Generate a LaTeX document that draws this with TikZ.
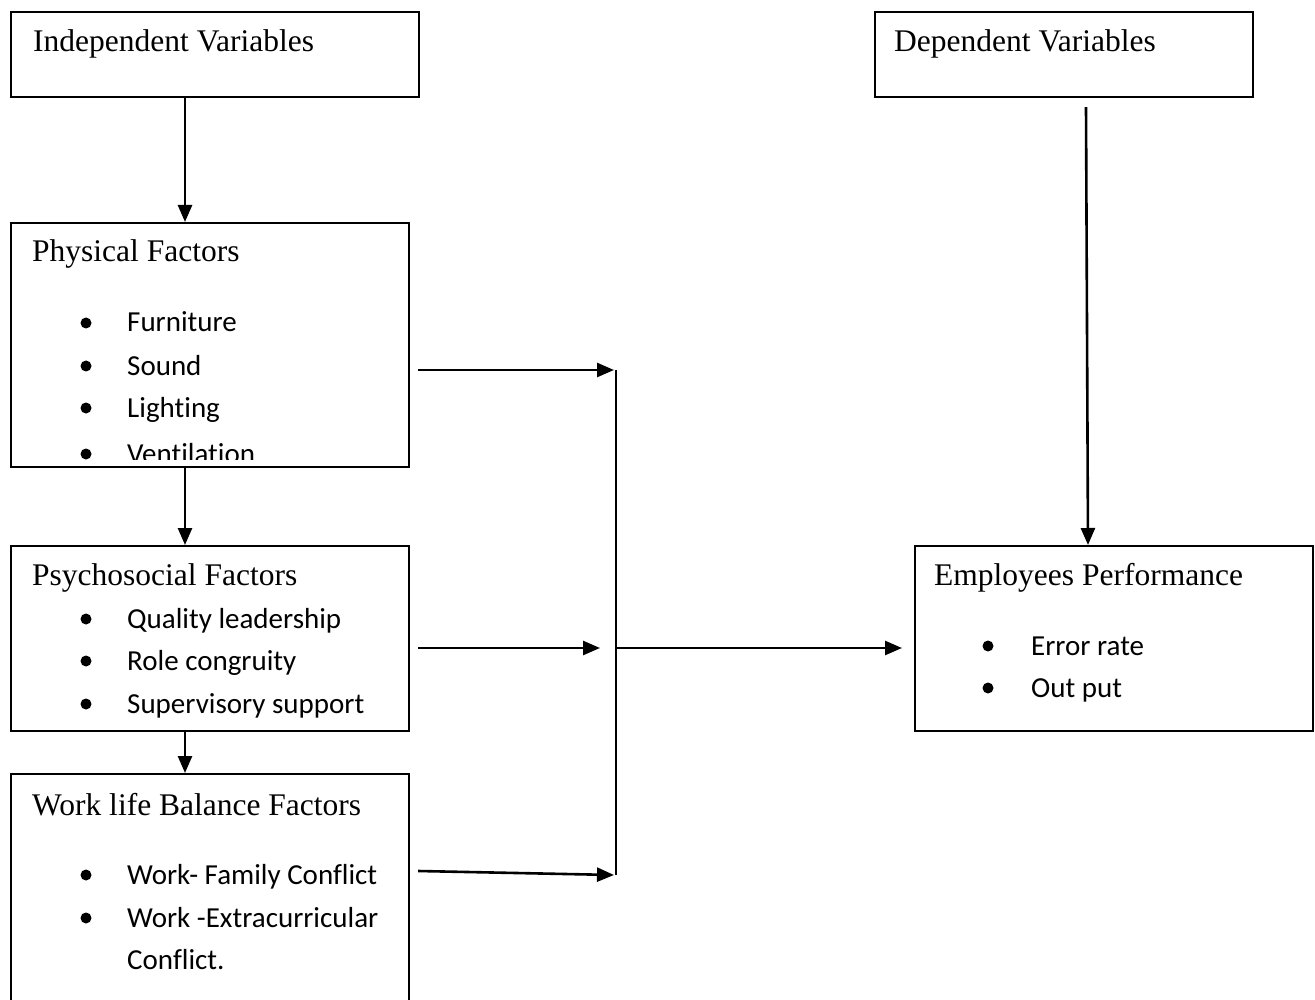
\documentclass[tikz,border=0pt]{standalone}
\usepackage{fontspec}
\setmainfont{Liberation Serif}
\newfontfamily\calib[Ligatures=NoCommon]{Carlito}
\usetikzlibrary{arrows.meta}
\begin{document}
\begin{tikzpicture}[x=1pt,y=-1pt,
  box/.style={draw, line width=2.2pt, anchor=north west, inner sep=0pt},
  ttl/.style={anchor=base west, inner sep=0pt, font=\fontsize{31.5}{36}\selectfont},
  itm/.style={anchor=base west, inner sep=0pt, font=\calib\fontsize{29}{34}\selectfont},
  bul/.style={circle, fill=black, inner sep=0pt, minimum size=11pt},
  arr/.style={line width=2.6pt, -{Triangle[length=17pt,width=14pt]}},
  ln/.style={line width=2.6pt}]
\fill[white] (0,0) rectangle (1315,1000);
\useasboundingbox (0,0) rectangle (1315,1000);

% boxes
\node[box, minimum width=408pt, minimum height=85pt] (indep) at (10,11) {};
\node[box, minimum width=378pt, minimum height=85pt] (dep) at (874,11) {};
\node[box, minimum width=398pt, minimum height=244pt] (phys) at (10,222) {};
\node[box, minimum width=398pt, minimum height=185pt] (psych) at (10,545) {};
\node[box, minimum width=398pt, minimum height=240pt] (work) at (10,773) {};
\node[box, minimum width=398pt, minimum height=185pt] (emp) at (914,545) {};

% titles
\node[ttl] (tindep) at (33,52) {Independent Variables};
\node[ttl] (tdep) at (894,52) {Dependent Variables};
\node[ttl] (tphys) at (32,262) {Physical Factors};
\node[ttl] (tpsych) at (32,585) {Psychosocial Factors};
\node[ttl] (twork) at (32,815) {Work life Balance Factors};
\node[ttl] (temp) at (934,585) {Employees Performance};

% physical items
\node[bul] (b1) at (86,323) {};
\node[itm] (i1) at (127,332) {Furniture};
\node[bul] (b2) at (86,366) {};
\node[itm] (i2) at (127,375) {Sound};
\node[bul] (b3) at (86,408) {};
\node[itm] (i3) at (127,417) {Lighting};
\begin{scope}
\clip (10,222) rectangle (408,459);
\node[bul] (b4) at (86,454) {};
\node[itm] (i4) at (127,463) {Ventilation};
\end{scope}

% psychosocial items
\node[bul] (b5) at (86,619) {};
\node[itm] (i5) at (127,628) {Quality leadership};
\node[bul] (b6) at (86,661) {};
\node[itm] (i6) at (127,670) {Role congruity};
\node[bul] (b7) at (86,704) {};
\node[itm] (i7) at (127,713) {Supervisory support};

% work life items
\node[bul] (b8) at (86,875) {};
\node[itm] (i8) at (127,884) {Work- Family Conflict};
\node[bul] (b9) at (86,918) {};
\node[itm] (i9) at (127,927) {Work -Extracurricular};
\node[itm] (i10) at (127,969) {Conflict.};

% employee items
\node[bul] (b11) at (988,646) {};
\node[itm] (i11) at (1031,655) {Error rate};
\node[bul] (b12) at (988,688) {};
\node[itm] (i12) at (1031,697) {Out put};

% connectors
\coordinate (ax) at (185,0);
\coordinate (d1) at (1086,0);
\coordinate (d2) at (1088,0);
\coordinate (jtop) at (616,370);
\coordinate (jmid) at (616,648);
\coordinate (jbot) at (616,875);

\draw[arr] (indep.south -| ax) -- (phys.north -| ax);
\draw[arr] (phys.south -| ax) -- (psych.north -| ax);
\draw[arr] (psych.south -| ax) -- (work.north -| ax);
\draw[arr] ([yshift=-9pt]dep.south -| d1) -- (emp.north -| d2);

\draw[arr] ([xshift=8pt]phys.east |- jtop) -- ([xshift=-2pt]jtop);
\draw[arr] ([xshift=8pt]psych.east |- jmid) -- ([xshift=-16pt]jmid);
\draw[arr] ([xshift=8pt,yshift=4pt]work.east |- jbot) -- ([xshift=-2pt]jbot);
\draw[ln] (jtop) -- (jbot);
\draw[arr] (jmid) -- ([xshift=-12pt]emp.west |- jmid);
\end{tikzpicture}
\end{document}
